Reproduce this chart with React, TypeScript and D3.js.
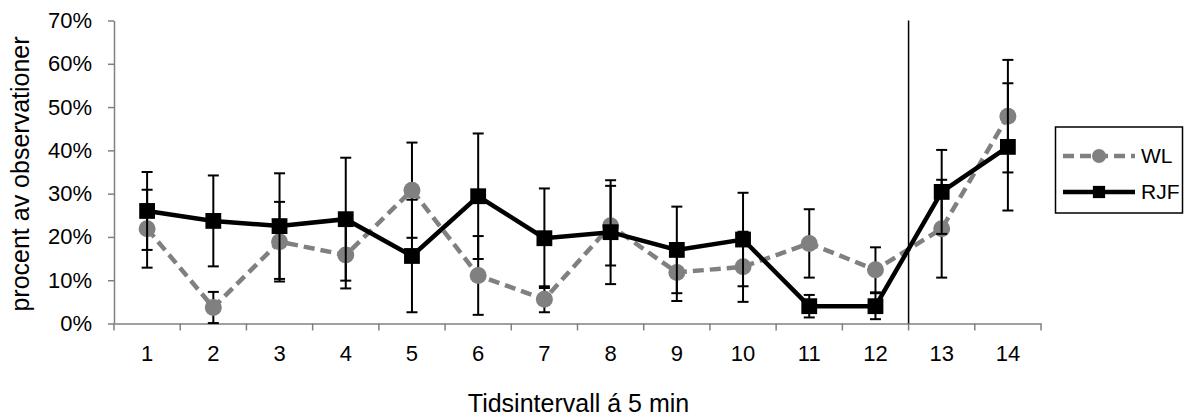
import React, { useRef, useEffect } from "react";
import { select, scaleLinear, scaleBand, line, axisLeft, axisBottom, symbol, symbolSquare } from "d3";

// data (percent)
const categories = ["1", "2", "3", "4", "5", "6", "7", "8", "9", "10", "11", "12", "13", "14"];
const wlValues = [21.9, 3.7, 18.9, 15.8, 30.8, 11.1, 5.6, 22.6, 11.8, 13.1, 18.5, 12.4, 21.9, 47.9];
const wlErrors = [9.0, 3.6, 9.2, 7.7, 11.0, 9.1, 3.0, 9.2, 6.6, 8.1, 7.9, 5.2, 11.3, 13.0];
const rjfValues = [26.0, 23.7, 22.5, 24.1, 15.6, 29.4, 19.7, 21.1, 17.0, 19.4, 4.0, 4.0, 30.4, 40.8];
const rjfErrors = [9.0, 10.5, 12.2, 14.2, 13.0, 14.5, 11.5, 12.0, 10.0, 10.8, 2.6, 3.0, 9.7, 14.7];
const yTicks = [0, 10, 20, 30, 40, 50, 60, 70];
const breakAfter = "12"; // vertical marker line between 12 and 13

const W = 1187;
const H = 419;
const margin = { top: 20.5, right: 146, bottom: 95.5, left: 114 };
const FONT = "'Liberation Sans', Arial, sans-serif";
const FS = 22;
const TITLE_FS = 25;

function App() {
  const svgRef = useRef<SVGSVGElement>(null);

  useEffect(() => {
    const svg = select(svgRef.current);
    svg.selectAll("*").remove();

    const xScale = scaleBand<string>()
      .domain(categories)
      .range([margin.left, W - margin.right])
      .padding(0);
    const cx = (c: string) => (xScale(c) as number) + xScale.bandwidth() / 2;

    const yScale = scaleLinear()
      .domain([0, 70])
      .range([H - margin.bottom, margin.top]);

    // y axis
    const yAxis = axisLeft(yScale)
      .tickValues(yTicks)
      .tickFormat((d) => `${d}%`)
      .tickSize(6)
      .tickSizeOuter(0)
      .tickPadding(16);
    const gy = svg.append("g").attr("transform", `translate(${margin.left},0)`).call(yAxis);
    gy.select(".domain").attr("stroke", "#808080").attr("stroke-width", 1.5);
    gy.selectAll(".tick line").attr("stroke", "#808080").attr("stroke-width", 1.5);
    gy.selectAll("text").attr("font-family", FONT).attr("font-size", FS).attr("fill", "#000");

    // x axis: labels centered in band, ticks between categories
    const xAxis = axisBottom(xScale).tickSize(0).tickSizeOuter(0).tickPadding(22);
    const gx = svg.append("g").attr("transform", `translate(0,${yScale(0)})`).call(xAxis);
    gx.select(".domain").attr("stroke", "#808080").attr("stroke-width", 1.5);
    gx.selectAll("text").attr("font-family", FONT).attr("font-size", FS).attr("fill", "#000");
    const boundaries = categories.map((c) => xScale(c) as number).concat([W - margin.right]);
    svg
      .append("g")
      .selectAll("line")
      .data(boundaries)
      .join("line")
      .attr("x1", (d) => d)
      .attr("x2", (d) => d)
      .attr("y1", yScale(0))
      .attr("y2", yScale(0) + 7)
      .attr("stroke", "#808080")
      .attr("stroke-width", 1.5);

    // vertical break line
    const bx = (xScale(breakAfter) as number) + xScale.bandwidth();
    svg
      .append("line")
      .attr("x1", bx)
      .attr("x2", bx)
      .attr("y1", yScale(70))
      .attr("y2", yScale(0))
      .attr("stroke", "#000")
      .attr("stroke-width", 1.5);

    const drawSeries = (
      values: number[],
      errors: number[],
      color: string,
      dash: string | null,
      marker: "circle" | "square"
    ) => {
      const g = svg.append("g");
      const pts = values.map((v, i) => [cx(categories[i]), yScale(v)] as [number, number]);
      g.append("path")
        .attr("d", line()(pts))
        .attr("fill", "none")
        .attr("stroke", color)
        .attr("stroke-width", 4.5)
        .attr("stroke-dasharray", dash);

      // error bars
      const eb = g
        .selectAll(".err")
        .data(values)
        .join("g")
        .attr("class", "err");
      eb.append("line")
        .attr("x1", (d, i) => cx(categories[i]))
        .attr("x2", (d, i) => cx(categories[i]))
        .attr("y1", (d, i) => yScale(d + errors[i]))
        .attr("y2", (d, i) => yScale(Math.max(0, d - errors[i])))
        .attr("stroke", "#000")
        .attr("stroke-width", 2);
      [1, -1].forEach((s) => {
        eb.append("line")
          .attr("x1", (d, i) => cx(categories[i]) - 5.5)
          .attr("x2", (d, i) => cx(categories[i]) + 5.5)
          .attr("y1", (d, i) => yScale(Math.max(0, d + s * errors[i])))
          .attr("y2", (d, i) => yScale(Math.max(0, d + s * errors[i])))
          .attr("stroke", "#000")
          .attr("stroke-width", 2);
      });

      if (marker === "circle") {
        g.selectAll(".mk")
          .data(pts)
          .join("circle")
          .attr("cx", (d) => d[0])
          .attr("cy", (d) => d[1])
          .attr("r", 8.5)
          .attr("fill", color);
      } else {
        g.selectAll(".mk")
          .data(pts)
          .join("path")
          .attr("d", symbol(symbolSquare, 250)())
          .attr("transform", (d) => `translate(${d[0]},${d[1]})`)
          .attr("fill", color);
      }
    };

    drawSeries(wlValues, wlErrors, "#808080", "11,6", "circle");
    drawSeries(rjfValues, rjfErrors, "#000000", null, "square");

    // y axis title
    svg
      .append("text")
      .attr("transform", `translate(28.5,174) rotate(-90)`)
      .attr("text-anchor", "middle")
      .attr("font-family", FONT)
      .attr("font-size", TITLE_FS)
      .text("procent av observationer");

    // x axis title
    svg
      .append("text")
      .attr("x", (margin.left + W - margin.right) / 2 + 1)
      .attr("y", 412)
      .attr("text-anchor", "middle")
      .attr("font-family", FONT)
      .attr("font-size", TITLE_FS)
      .text("Tidsintervall á 5 min");

    // legend
    const lg = svg.append("g");
    lg.append("rect")
      .attr("x", 1055.5)
      .attr("y", 127)
      .attr("width", 127)
      .attr("height", 86)
      .attr("fill", "#fff")
      .attr("stroke", "#000")
      .attr("stroke-width", 1.5);
    const items = [
      { name: "WL", color: "#808080", dash: "11,6", marker: "circle", y: 156 },
      { name: "RJF", color: "#000000", dash: null, marker: "square", y: 192 },
    ];
    items.forEach((it) => {
      lg.append("line")
        .attr("x1", 1063)
        .attr("x2", 1135)
        .attr("y1", it.y)
        .attr("y2", it.y)
        .attr("stroke", it.color)
        .attr("stroke-width", 4.5)
        .attr("stroke-dasharray", it.dash);
      if (it.marker === "circle") {
        lg.append("circle").attr("cx", 1099).attr("cy", it.y).attr("r", 7).attr("fill", it.color);
      } else {
        lg.append("path")
          .attr("d", symbol(symbolSquare, 150)())
          .attr("transform", `translate(1099,${it.y})`)
          .attr("fill", it.color);
      }
      lg.append("text")
        .attr("x", 1141)
        .attr("y", it.y)
        .attr("dy", "0.35em")
        .attr("font-family", FONT)
        .attr("font-size", 21)
        .text(it.name);
    });
  }, []);

  return (
    <svg
      ref={svgRef}
      width={W}
      height={H}
      style={{ position: "absolute", left: 0, top: 0, background: "#fff" }}
    />
  );
}

export default App;
